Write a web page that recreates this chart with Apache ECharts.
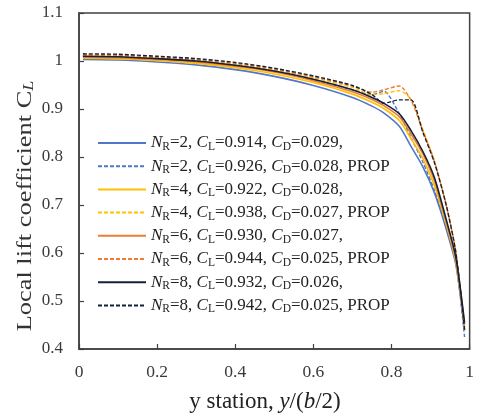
<!DOCTYPE html>
<html>
<head>
<meta charset="utf-8">
<script src="https://cdn.jsdelivr.net/npm/echarts@6/dist/echarts.min.js"></script>
<style>html,body{margin:0;padding:0;background:#fff;}#c{width:477px;height:414px;}</style>
</head>
<body>
<div id="c"></div>
<script>
// ---- data ----
var xStations = [0.01, 0.1, 0.2, 0.3, 0.4, 0.5, 0.6, 0.7, 0.75, 0.78, 0.82, 0.85, 0.88, 0.91, 0.94, 0.965, 0.987];
var nr2     = [1.003, 1.002, 0.998, 0.992, 0.982, 0.968, 0.949, 0.924, 0.906, 0.892, 0.864, 0.822, 0.780, 0.725, 0.650, 0.575, 0.440];
var nr2Prop = [1.010, 1.009, 1.005, 0.999, 0.990, 0.978, 0.961, 0.940, 0.930, 0.937, 0.890, 0.840, 0.790, 0.730, 0.655, 0.580, 0.425];
var nr4     = [1.006, 1.005, 1.001, 0.995, 0.986, 0.973, 0.955, 0.931, 0.914, 0.901, 0.876, 0.838, 0.797, 0.740, 0.660, 0.580, 0.445];
var nr4Prop = [1.012, 1.011, 1.007, 1.001, 0.993, 0.981, 0.965, 0.945, 0.930, 0.932, 0.938, 0.920, 0.858, 0.792, 0.700, 0.600, 0.440];
var nr6     = [1.008, 1.007, 1.003, 0.998, 0.989, 0.977, 0.959, 0.936, 0.920, 0.907, 0.884, 0.848, 0.807, 0.750, 0.665, 0.585, 0.450];
var nr6Prop = [1.013, 1.012, 1.008, 1.003, 0.995, 0.983, 0.967, 0.948, 0.935, 0.940, 0.948, 0.918, 0.855, 0.790, 0.700, 0.600, 0.440];
var nr8     = [1.010, 1.009, 1.005, 1.000, 0.991, 0.979, 0.962, 0.940, 0.924, 0.912, 0.890, 0.855, 0.812, 0.757, 0.670, 0.590, 0.455];
var nr8Prop = [1.015, 1.014, 1.010, 1.005, 0.997, 0.985, 0.969, 0.949, 0.930, 0.912, 0.919, 0.919, 0.852, 0.788, 0.700, 0.600, 0.440];

var nrLabels = ['2', '2', '4', '4', '6', '6', '8', '8'];
var clLabels = ['0.914', '0.926', '0.922', '0.938', '0.930', '0.944', '0.932', '0.942'];
var cdLabels = ['0.029', '0.028', '0.028', '0.027', '0.027', '0.025', '0.026', '0.025'];
var propLabels = ['', ' PROP', '', ' PROP', '', ' PROP', '', ' PROP'];
var xTicks = [0, 0.2, 0.4, 0.6, 0.8, 1];
var yTicks = [0.4, 0.5, 0.6, 0.7, 0.8, 0.9, 1, 1.1];

// ---- styling ----
var seriesValues = [nr2, nr2Prop, nr4, nr4Prop, nr6, nr6Prop, nr8, nr8Prop];
var colors = ['#5077C8', '#5077C8', '#FFC000', '#FFC000', '#ED7D31', '#ED7D31', '#14213D', '#14213D'];
var dashed = [false, true, false, true, false, true, false, true];
var FONT = 'Liberation Serif';

function pairs(vals) {
  return xStations.map(function (x, i) { return [x, vals[i]]; });
}
var names = seriesValues.map(function (_, i) { return 's' + i; });

var series = seriesValues.map(function (vals, i) {
  return {
    name: names[i],
    type: 'line',
    data: pairs(vals),
    symbol: 'none',
    smooth: 0.25,
    z: 2 + i,
    lineStyle: {
      color: colors[i],
      width: dashed[i] ? 1.4 : 1.6,
      type: dashed[i] ? [4, 2] : 'solid'
    },
    itemStyle: { color: colors[i] }
  };
});

var chart = echarts.init(document.getElementById('c'), null, { renderer: 'canvas' });
chart.setOption({
  animation: false,
  backgroundColor: '#ffffff',
  grid: { left: 79, top: 13, right: 2, bottom: 65, show: true, borderColor: '#404040', borderWidth: 1.5, containLabel: false },
  xAxis: {
    type: 'value', min: xTicks[0], max: xTicks[xTicks.length - 1], interval: 0.2,
    axisLine: { show: true, lineStyle: { color: '#404040', width: 1.5 } },
    axisTick: { show: true, inside: true, length: 5, lineStyle: { color: '#404040', width: 1.2 } },
    splitLine: { show: false },
    axisLabel: { margin: 14, fontFamily: FONT, fontSize: 17.5, color: '#3a3a3a', showMaxLabel: true,
      formatter: function (v) { return String(Math.round(v * 10) / 10); } }
  },
  yAxis: {
    type: 'value', min: yTicks[0], max: yTicks[yTicks.length - 1], interval: 0.1,
    axisLine: { show: true, lineStyle: { color: '#404040', width: 1.5 } },
    axisTick: { show: true, inside: true, length: 5, lineStyle: { color: '#404040', width: 1.2 } },
    splitLine: { show: false },
    axisLabel: { margin: 16, fontFamily: FONT, fontSize: 17, color: '#3a3a3a',
      formatter: function (v) { return String(Math.round(v * 10) / 10); } }
  },
  legend: {
    orient: 'vertical', left: 97, top: 133, padding: 0, itemWidth: 48, itemHeight: 14, itemGap: 3.2,
    data: names,
    itemStyle: { opacity: 0, borderWidth: 0 },
    formatter: function (name) {
      var i = names.indexOf(name);
      return '{i|N}{s|R}{t|=' + nrLabels[i] + ', }{i|C}{s|L}{t|=' + clLabels[i] + ', }{i|C}{s|D}{t|=' + cdLabels[i] + ',' + propLabels[i] + '}';
    },
    textStyle: {
      fontFamily: FONT, fontSize: 17, color: '#222',
      rich: {
        i: { fontFamily: FONT, fontSize: 17, fontStyle: 'italic', color: '#222', lineHeight: 20 },
        t: { fontFamily: FONT, fontSize: 17, color: '#222', lineHeight: 20 },
        s: { fontFamily: FONT, fontSize: 11.5, color: '#222', lineHeight: 12, padding: [8, 0, 0, 0] }
      }
    }
  },
  graphic: [
    {
      type: 'text', x: 25, y: 206, rotation: Math.PI / 2, scaleX: 1.2, z: 10,
      style: {
        text: '{a|Local lift coefficient C}{b|L}',
        align: 'center', verticalAlign: 'middle',
        rich: {
          a: { fontFamily: FONT, fontSize: 22, fill: '#333', lineHeight: 24 },
          b: { fontFamily: FONT, fontSize: 15, fontStyle: 'italic', fill: '#333', lineHeight: 16, padding: [8, 0, 0, 0] }
        }
      }
    },
    {
      type: 'text', x: 265, y: 402, z: 10,
      style: {
        text: '{a|y station, }{i|y}{a|/(}{i|b}{a|/2)}',
        align: 'center', verticalAlign: 'middle',
        rich: {
          a: { fontFamily: FONT, fontSize: 23, fill: '#222' },
          i: { fontFamily: FONT, fontSize: 23, fontStyle: 'italic', fill: '#222' }
        }
      }
    }
  ],
  series: series
});
</script>
</body>
</html>
